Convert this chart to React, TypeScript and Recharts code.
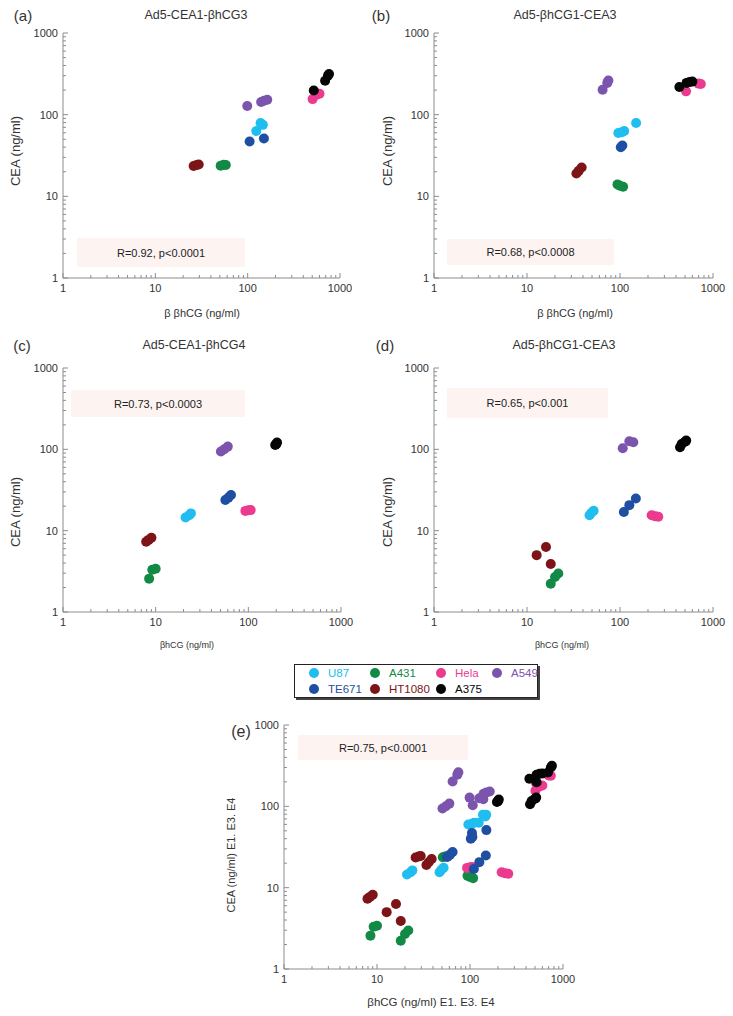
import React from 'react'
import { ScatterChart, Scatter, XAxis, YAxis } from 'recharts'

const CELL_LINES = ['U87', 'A431', 'Hela', 'A549', 'TE671', 'HT1080', 'A375']
const COLORS = ['#20bef0', '#128a45', '#ec3a8f', '#7b55ad', '#1e4fa3', '#7d1417', '#050505']

// [βhCG, CEA] in ng/ml, one list per cell line (same order as CELL_LINES)
const PANEL_A = [
  [[124, 63], [138, 79], [146, 75]],
  [[51, 23.7], [55, 24.4], [58, 24.2]],
  [[505, 155], [560, 175], [600, 180]],
  [[99, 128], [140, 143], [150, 148], [163, 152]],
  [[105, 47], [150, 51]],
  [[26, 23.5], [28, 24.2], [29.5, 24.5]],
  [[520, 198], [690, 260], [740, 300], [760, 315]],
]
const PANEL_B = [
  [[96, 59.7], [105, 61], [111, 63], [149, 79]],
  [[94, 14], [100, 13.5], [108, 13.1]],
  [[513, 193], [700, 240], [740, 238]],
  [[65, 202], [73, 245], [75, 262]],
  [[102, 40], [106, 42]],
  [[34, 19], [36, 20.5], [38.7, 22.5]],
  [[435, 218], [520, 245], [560, 252], [600, 254]],
]
const PANEL_C = [
  [[21, 14.5], [23, 15.5], [24, 16.3]],
  [[8.5, 2.57], [9.2, 3.3], [10, 3.4]],
  [[93, 17.5], [100, 17.8], [106, 17.9]],
  [[50.6, 94], [55, 100], [60, 108]],
  [[56.5, 23.8], [61, 25.5], [65, 27.4]],
  [[7.9, 7.3], [8.4, 7.7], [9.0, 8.2]],
  [[195, 113], [200, 116], [204, 121]],
]
const PANEL_D = [
  [[47, 15.5], [49, 16.5], [52, 17.6]],
  [[18, 2.23], [20, 2.7], [21.7, 2.97]],
  [[219, 15.5], [240, 15], [258, 14.8]],
  [[107, 103], [126, 126], [139, 122]],
  [[110, 17], [126, 20.6], [148, 24.9]],
  [[12.7, 5.0], [16, 6.3], [18, 3.9]],
  [[442, 106], [460, 116], [500, 124], [515, 128]],
]
// panel (e) pools the three experiments
const PANEL_E = CELL_LINES.map((_, i) => [...PANEL_A[i], ...PANEL_B[i], ...PANEL_C[i], ...PANEL_D[i]])

const DECADES = [1, 10, 100, 1000]
const LOG_TICKS = [
  1, 2, 3, 4, 5, 6, 7, 8, 9, 10, 20, 30, 40, 50, 60, 70, 80, 90, 100, 200, 300, 400, 500, 600, 700, 800, 900, 1000,
]

const FONT = '"Liberation Sans", Arial, sans-serif'
const AXIS = '#8c8c8c'
const TXT = '#333'

const tickLen = (v: number) => (DECADES.includes(v) ? 5 : 3)

function BottomTick({ x, y, payload }: any) {
  const v = payload.value
  return (
    <g>
      <line x1={x} x2={x} y1={y} y2={y - tickLen(v)} stroke={AXIS} />
      {DECADES.includes(v) && (
        <text x={x} y={y + 14} textAnchor="middle" fontSize={11} fill={TXT} fontFamily={FONT}>
          {v}
        </text>
      )}
    </g>
  )
}
function TopTick({ x, y, payload }: any) {
  return <line x1={x} x2={x} y1={y} y2={y + tickLen(payload.value)} stroke={AXIS} />
}
function LeftTick({ x, y, payload }: any) {
  const v = payload.value
  return (
    <g>
      <line x1={x} x2={x + tickLen(v)} y1={y} y2={y} stroke={AXIS} />
      {DECADES.includes(v) && (
        <text x={x - 5} y={y + 4} textAnchor="end" fontSize={11} fill={TXT} fontFamily={FONT}>
          {v}
        </text>
      )}
    </g>
  )
}
function RightTick({ x, y, payload }: any) {
  return <line x1={x} x2={x - tickLen(payload.value)} y1={y} y2={y} stroke={AXIS} />
}

function Panel({ plot, data }: { plot: number[]; data: number[][][] }) {
  const [x1, y1, x2, y2] = plot
  const logAxis = {
    type: 'number' as const,
    scale: 'log' as const,
    domain: [1, 1000],
    allowDataOverflow: true,
    ticks: LOG_TICKS,
    interval: 0 as const,
    tickSize: 0,
    tickMargin: 0,
    tickLine: false,
    axisLine: { stroke: AXIS },
  }
  return (
    <div style={{ position: 'absolute', left: x1 - 50, top: y1 - 10 }}>
      <ScatterChart width={x2 - x1 + 72} height={y2 - y1 + 40} margin={{ top: 10, right: 22, bottom: 0, left: 0 }}>
        <XAxis {...logAxis} xAxisId="b" dataKey="x" height={30} tick={(p: any) => <BottomTick {...p} />} />
        <XAxis {...logAxis} xAxisId="t" orientation="top" dataKey="x" height={0} tick={(p: any) => <TopTick {...p} />} />
        <YAxis {...logAxis} yAxisId="l" dataKey="y" width={50} tick={(p: any) => <LeftTick {...p} />} />
        <YAxis {...logAxis} yAxisId="r" orientation="right" dataKey="y" width={0} tick={(p: any) => <RightTick {...p} />} />
        {data.map((pts, i) => (
          <Scatter
            key={CELL_LINES[i]}
            name={CELL_LINES[i]}
            xAxisId="b"
            yAxisId="l"
            data={pts.map(([x, y]) => ({ x, y }))}
            fill={COLORS[i]}
            isAnimationActive={false}
            shape={(p: any) => <circle cx={p.cx} cy={p.cy} r={5} fill={COLORS[i]} />}
          />
        ))}
      </ScatterChart>
    </div>
  )
}

function Txt({ x, y, size, rotate, children }: any) {
  return (
    <div
      style={{
        position: 'absolute',
        left: x,
        top: y,
        transform: `translate(-50%, -50%)${rotate ? ' rotate(-90deg)' : ''}`,
        fontSize: size,
        fontFamily: FONT,
        color: TXT,
        whiteSpace: 'nowrap',
        lineHeight: 1,
      }}
    >
      {children}
    </div>
  )
}

function Stat({ box, text }: { box: number[]; text: string }) {
  const [l, t, r, b] = box
  return (
    <div
      style={{
        position: 'absolute',
        left: l,
        top: t,
        width: r - l,
        height: b - t,
        background: '#fdf4f2',
        display: 'flex',
        alignItems: 'center',
        justifyContent: 'center',
        fontSize: 11,
        fontFamily: FONT,
        color: '#222',
      }}
    >
      {text}
    </div>
  )
}

const LEGEND_COLS = [313, 374, 440, 496]

function CellLegend() {
  return (
    <div
      style={{
        position: 'absolute',
        left: 294,
        top: 664,
        width: 244,
        height: 34,
        border: '1px solid #222',
        boxShadow: '2px 2px 0 #444',
        boxSizing: 'border-box',
        background: '#fff',
      }}
    >
      {CELL_LINES.map((name, i) => {
        const col = i < 4 ? i : i - 4
        const row = i < 4 ? 0 : 1
        const cx = LEGEND_COLS[col] - 294
        const cy = row === 0 ? 8 : 24
        return (
          <React.Fragment key={name}>
            <div
              style={{
                position: 'absolute',
                left: cx - 5,
                top: cy - 5,
                width: 10,
                height: 10,
                borderRadius: 5,
                background: COLORS[i],
              }}
            />
            <div
              style={{
                position: 'absolute',
                left: cx + 14,
                top: cy - 7,
                fontSize: 11.5,
                lineHeight: '14px',
                fontFamily: FONT,
                color: COLORS[i],
                whiteSpace: 'nowrap',
              }}
            >
              {name}
            </div>
          </React.Fragment>
        )
      })}
    </div>
  )
}

export default function App() {
  return (
    <div style={{ position: 'absolute', left: 0, top: 0, width: 733, height: 1016, background: '#fff' }}>
      <Panel plot={[63, 33, 340, 278]} data={PANEL_A} />
      <Panel plot={[434, 33, 713, 278]} data={PANEL_B} />
      <Panel plot={[63, 368, 341, 612]} data={PANEL_C} />
      <Panel plot={[434, 368, 713, 612]} data={PANEL_D} />
      <Panel plot={[284, 725, 563, 969]} data={PANEL_E} />

      <Stat box={[77, 238, 245, 267]} text="R=0.92, p<0.0001" />
      <Stat box={[447, 239, 614, 265]} text="R=0.68, p<0.0008" />
      <Stat box={[71, 390, 245, 417]} text="R=0.73, p<0.0003" />
      <Stat box={[447, 388, 608, 418]} text="R=0.65, p<0.001" />
      <Stat box={[298, 735, 468, 760]} text="R=0.75, p<0.0001" />

      <Txt x={23} y={15} size={15}>(a)</Txt>
      <Txt x={196} y={15} size={12.5}>Ad5-CEA1-βhCG3</Txt>
      <Txt x={381} y={15} size={15}>(b)</Txt>
      <Txt x={565} y={15} size={12.5}>Ad5-βhCG1-CEA3</Txt>
      <Txt x={22} y={345} size={15}>(c)</Txt>
      <Txt x={194} y={345} size={12.5}>Ad5-CEA1-βhCG4</Txt>
      <Txt x={385} y={345} size={15}>(d)</Txt>
      <Txt x={564} y={345} size={12.5}>Ad5-βhCG1-CEA3</Txt>
      <Txt x={241} y={732} size={16}>(e)</Txt>

      <Txt x={202} y={313} size={11}>β βhCG (ng/ml)</Txt>
      <Txt x={575} y={313} size={11}>β βhCG (ng/ml)</Txt>
      <Txt x={187} y={645} size={9}>βhCG (ng/ml)</Txt>
      <Txt x={562} y={645} size={9}>βhCG (ng/ml)</Txt>
      <Txt x={431} y={1003} size={11.5}>βhCG (ng/ml) E1. E3. E4</Txt>

      <Txt x={15} y={151} size={13} rotate>CEA (ng/ml)</Txt>
      <Txt x={387} y={151} size={13} rotate>CEA (ng/ml)</Txt>
      <Txt x={15} y={512} size={13} rotate>CEA (ng/ml)</Txt>
      <Txt x={387} y={512} size={13} rotate>CEA (ng/ml)</Txt>
      <Txt x={231} y={855} size={11} rotate>CEA (ng/ml) E1. E3. E4</Txt>

      <CellLegend />
    </div>
  )
}
